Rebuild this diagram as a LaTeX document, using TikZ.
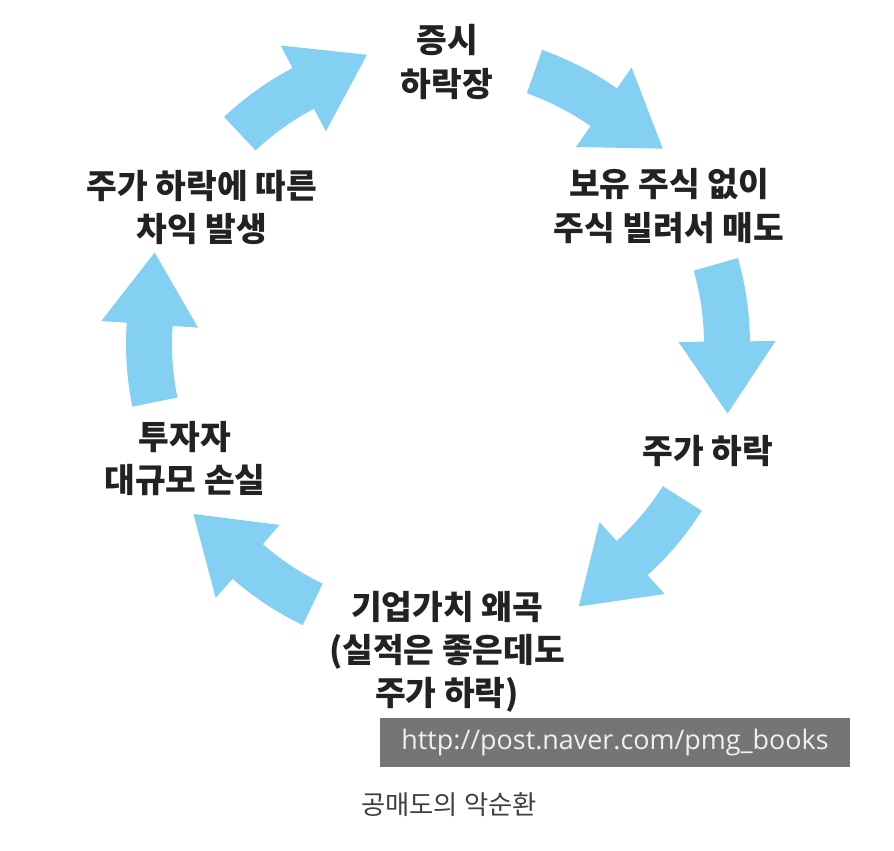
\documentclass[tikz,border=0pt]{standalone}
\usepackage{fontspec}
\setmainfont{Noto Sans CJK KR}
\newfontfamily\urlfont{Open Sans}
\usepackage{xcolor}
\usepackage{tikz}
\definecolor{flowblue}{HTML}{84D0F2}
\definecolor{ink}{HTML}{222222}
\definecolor{bargray}{HTML}{757575}
\tikzset{
  stage/.style={align=center, text=ink, font=\bfseries\fontsize{19}{24.5}\selectfont},
  flow/.style={fill=flowblue}
}

\begin{document}
\begin{tikzpicture}[x=0.02cm, y=0.02cm]
        % one unit = one pixel of the 894x850 original, y grows upwards
        \useasboundingbox (0,0) rectangle (894,-850);
        \coordinate (c) at (438,-344);
        % six curved block arrows, clockwise round (c)
        \foreach \s in {133.3,70.5,16,-32.3,-115.7,-168.4}{
            \fill[flow] ([shift={(\s:312)}]c) arc[start angle=\s, end angle=\s-15.5, radius=312]
                -- ([shift={(\s-15.5:337.5)}]c) -- ([shift={(\s-29.5:297.8)}]c)
                -- ([shift={(\s-15.5:240.5)}]c) -- ([shift={(\s-15.5:266)}]c)
                arc[start angle=\s-15.5, end angle=\s, radius=266] -- cycle;
        }
        \node[stage] (crash) at (447,-62) {증시\\하락장};
        \node[stage] (shortsell) at (669,-206) {보유 주식 없이\\주식 빌려서 매도};
        \node[stage] (fall) at (708,-451) {주가 하락};
        \node[stage] (distort) at (447,-652) {기업가치 왜곡\\(실적은 좋은데도\\주가 하락)};
        \node[stage] (loss) at (185,-459) {투자자\\대규모 손실};
        \node[stage] (profit) at (202,-207) {주가 하락에 따른\\차익 발생};
        \node[fill=bargray, text=white!94!black, minimum width=470*0.02cm, minimum height=49*0.02cm,
              inner sep=0pt, font=\urlfont\fontsize{15.3}{17}\selectfont] (url) at (615,-742.5) {http://post.naver.com/pmg\_books};
        \node[text=black!75, font=\fontsize{15}{17}\selectfont] (caption) at (449,-805) {공매도의 악순환};
    \end{tikzpicture}
\end{document}
